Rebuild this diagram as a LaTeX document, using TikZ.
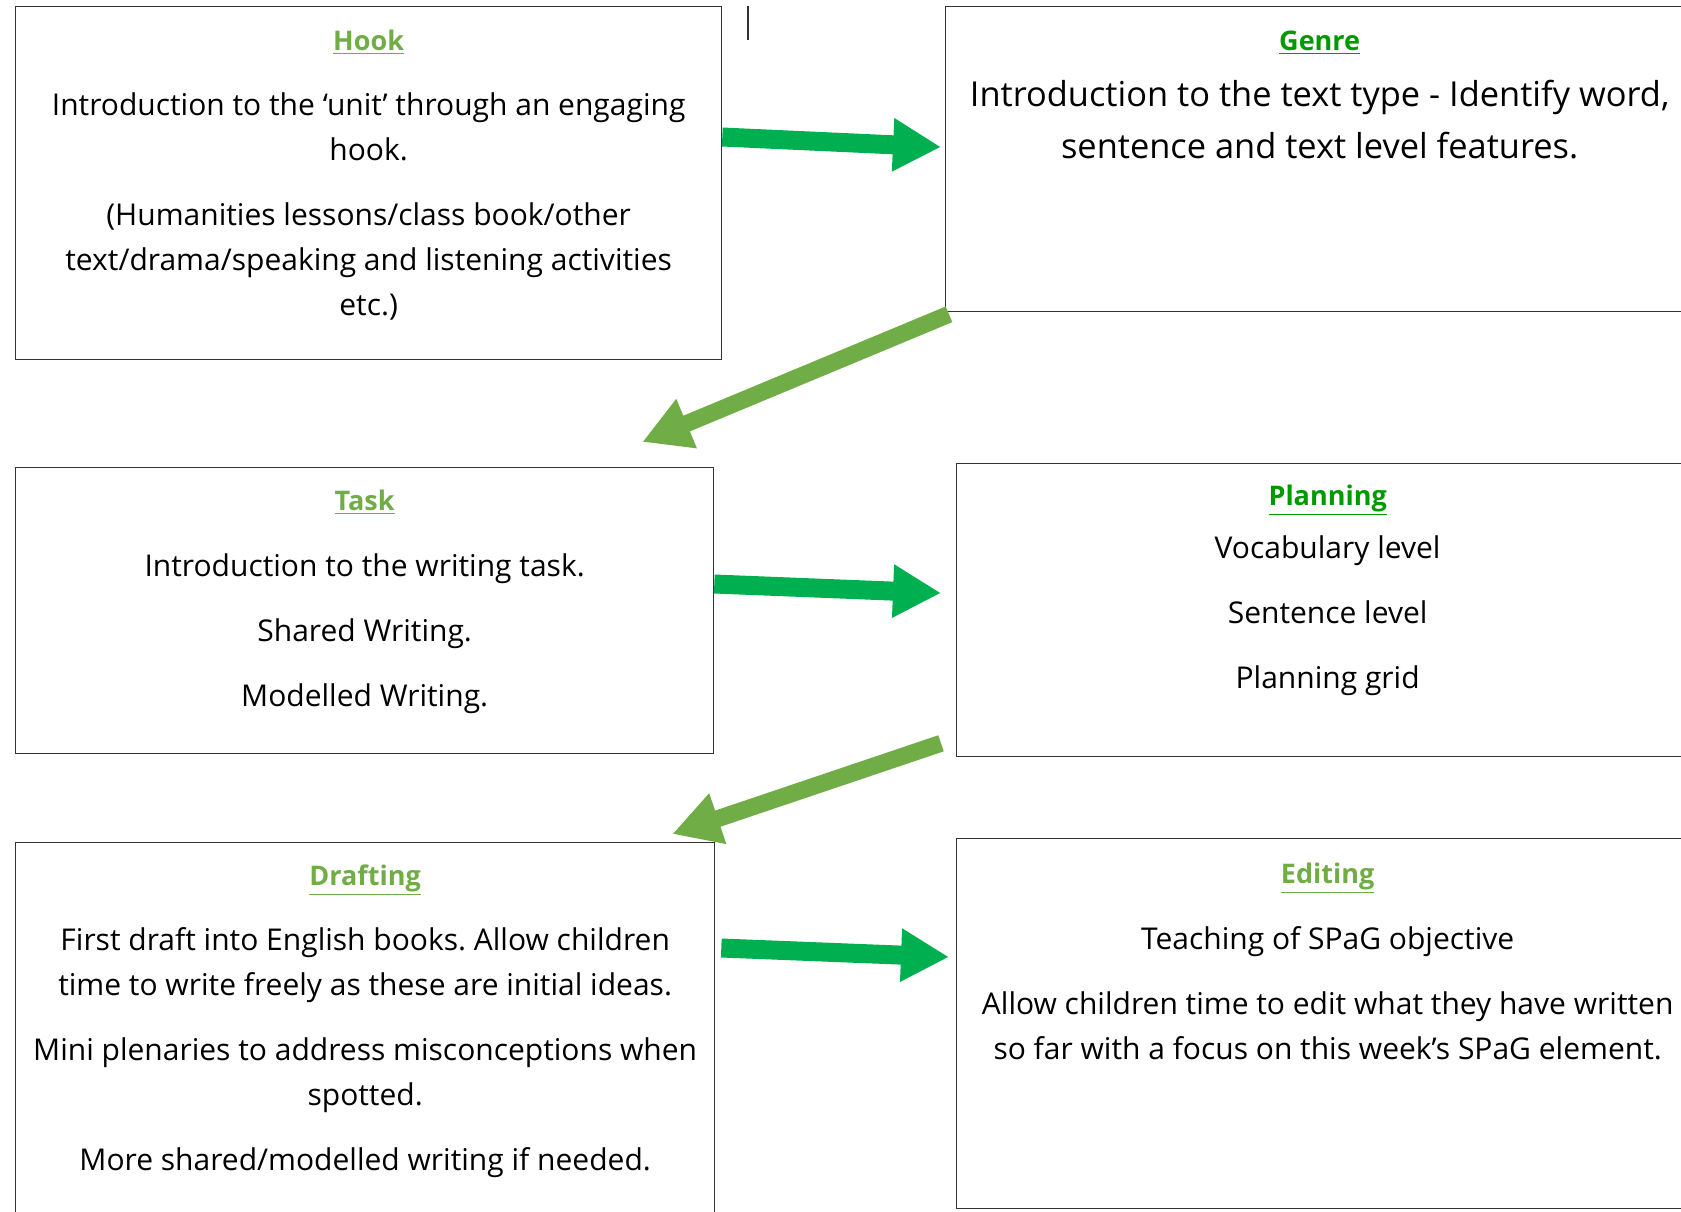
\documentclass[tikz,border=0pt]{standalone}
\usepackage{fontspec}
\setmainfont{Open Sans}
\usetikzlibrary{arrows.meta,calc,positioning}
\definecolor{StepGreen}{RGB}{112,173,71}
\definecolor{DeepGreen}{RGB}{0,153,0}
\definecolor{FlowGreen}{RGB}{0,176,80}
\definecolor{PanelGrey}{RGB}{51,51,51}
\frenchspacing

\begin{document}
\begin{tikzpicture}[x=0.5pt,y=-0.5pt,>=Stealth]
    \tikzset{panel/.style={draw=PanelGrey,line width=0.65pt,anchor=north west,inner sep=0pt},
      heading/.style={font=\fontsize{13.5}{16}\selectfont\bfseries,inner sep=0pt},
      body/.style={font=\fontsize{15}{22.5}\selectfont,align=center,inner sep=0pt,anchor=north},
      forward/.style={FlowGreen,line width=9.5pt,-{Triangle[width=25pt,length=24pt]}},
      backward/.style={StepGreen,line width=8.5pt,-{Triangle[width=25pt,length=24pt]}}}
    \path[use as bounding box] (0,0) rectangle (1681,1211);
    \clip (0,0) rectangle (1681,1211);
    % panels
    \node[panel,minimum width=353pt,minimum height=176.5pt] (hook) at (15,6) {};
    \node[panel,minimum width=374pt,minimum height=152.5pt] (genre) at (945,6) {};
    \node[panel,minimum width=349pt,minimum height=143pt] (task) at (15,467) {};
    \node[panel,minimum width=371pt,minimum height=146.5pt] (plan) at (956,463) {};
    \node[panel,minimum width=349.5pt,minimum height=191.5pt] (draft) at (15,842) {};
    \node[panel,minimum width=371pt,minimum height=185pt] (edit) at (956,838) {};
    \draw[PanelGrey,line width=0.8pt] (748,6) -- (748,40);
    % headings
    \node[heading,text=StepGreen] (hookT) at ($(hook.north)+(0,36)$) {\underline{Hook}};
    \node[heading,text=DeepGreen] (genreT) at ($(genre.north)+(0,37)$) {\underline{Genre}};
    \node[heading,text=StepGreen] (taskT) at ($(task.north)+(0,35)$) {\underline{Task}};
    \node[heading,text=DeepGreen] (planT) at ($(plan.north)+(0,37)$) {\underline{Planning}};
    \node[heading,text=StepGreen] (draftT) at ($(draft.north)+(0,38)$) {\underline{Drafting}};
    \node[heading,text=StepGreen] (editT) at ($(edit.north)+(0,40)$) {\underline{Editing}};
    % texts
    \node[body] (hookB) at ($(hook.north)+(0,86)$) {Introduction to the ‘unit’ through an engaging\\hook.\\[10pt](Humanities lessons/class book/other\\text/drama/speaking and listening activities\\etc.)};
    \node[body,font=\fontsize{17.2}{26}\selectfont] (genreB) at ($(genre.north)+(0,74)$) {Introduction to the text type - Identify word,\\sentence and text level features.};
    \node[body] (taskB) at ($(task.north)+(0,86)$) {Introduction to the writing task.\\[10pt]Shared Writing.\\[10pt]Modelled Writing.};
    \node[body] (planB) at ($(plan.north)+(0,72)$) {Vocabulary level\\[10pt]Sentence level\\[10pt]Planning grid};
    \node[body] (draftB) at ($(draft.north)+(0,85)$) {First draft into English books. Allow children\\time to write freely as these are initial ideas.\\[10pt]Mini plenaries to address misconceptions when\\spotted.\\[10pt]More shared/modelled writing if needed.};
    \node[body] (editB) at ($(edit.north)+(0,88)$) {Teaching of SPaG objective\\[10pt]Allow children time to edit what they have written\\so far with a focus on this week’s SPaG element.};
    % arrows
    \draw[forward] ($(hook.north east)+(0,131)$) -- ($(genre.north west)+(-4,141)$);
    \draw[backward] ($(genre.south west)+(4,2)$) -- ($(task.north east)+(-72,-25)$);
    \draw[forward] ($(task.north east)+(0,117)$) -- ($(plan.north west)+(-15,130)$);
    \draw[backward] ($(plan.south west)+(-15,-14)$) -- ($(draft.north east)+(-43,-8)$);
    \draw[forward] ($(draft.north east)+(6,106)$) -- ($(edit.north west)+(-7,119)$);
  \end{tikzpicture}
\end{document}
